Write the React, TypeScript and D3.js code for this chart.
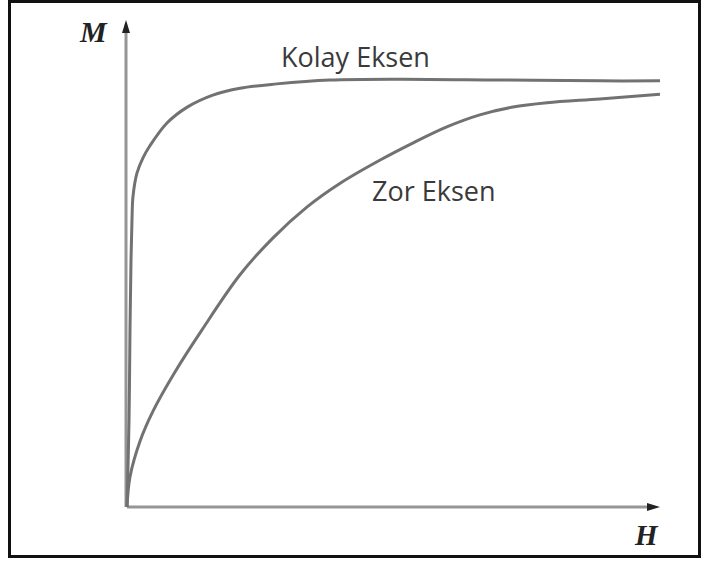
import React from "react";
import * as d3 from "d3";

// Magnetisation curves: field strength H (x) against magnetisation M (y)
const kolayH = [0, 0.038, 0.056, 0.075, 0.094, 0.113, 0.188, 0.3, 0.43, 0.75, 1.13, 1.61, 2.12, 2.81, 3.81, 5.12, 7.0, 8.87, 10];
const kolayM = [0, 0.202, 0.411, 0.574, 0.67, 0.723, 0.777, 0.812, 0.84, 0.893, 0.93, 0.958, 0.974, 0.984, 0.993, 0.995, 0.993, 0.991, 0.991];

const zorH = [0, 0.056, 0.244, 0.488, 0.9, 1.407, 2.12, 2.74, 3.38, 4.0, 4.75, 5.37, 6.0, 6.62, 7.24, 7.88, 8.87, 10];
const zorM = [0, 0.07, 0.153, 0.223, 0.314, 0.412, 0.54, 0.626, 0.698, 0.753, 0.807, 0.847, 0.884, 0.912, 0.93, 0.94, 0.949, 0.96];

const curveLabels = ["Kolay Eksen", "Zor Eksen"];
const axisLabels = ["M", "H"];

const W = 706;
const H = 563;

export default function App() {
  const x = d3.scaleLinear().domain([0, 10]).range([127, 660]);
  const y = d3.scaleLinear().domain([0, 1]).range([507, 77]);

  const line = d3
    .line<[number, number]>()
    .x((d) => x(d[0]))
    .y((d) => y(d[1]))
    .curve(d3.curveCatmullRom.alpha(0.5));

  const kolay = kolayH.map((h, i) => [h, kolayM[i]] as [number, number]);
  const zor = zorH.map((h, i) => [h, zorM[i]] as [number, number]);

  const x0 = x(0);
  const y0 = y(0);
  const axisColor = "#959595";
  const curveColor = "#727272";

  return (
    <svg
      width={W}
      height={H}
      style={{ position: "absolute", left: 0, top: 0, background: "#fff" }}
    >
      <rect x={9.5} y={1.5} width={690} height={555} fill="#fff" stroke="#111" strokeWidth={3} />

      {/* axes */}
      <line x1={x0 - 1} y1={y0} x2={x0 - 1} y2={30} stroke={axisColor} strokeWidth={3} />
      <polygon points={`${x0 - 1},20 ${x0 - 5},33 ${x0 + 3},33`} fill="#222" />
      <line x1={x0} y1={y0} x2={650} y2={y0} stroke={axisColor} strokeWidth={3} />
      <polygon points={`660,${y0} 647,${y0 - 4} 647,${y0 + 4}`} fill="#222" />

      {/* curves */}
      <path d={line(kolay) ?? ""} fill="none" stroke={curveColor} strokeWidth={3} />
      <path d={line(zor) ?? ""} fill="none" stroke={curveColor} strokeWidth={3} />

      {/* labels */}
      <text
        x={281}
        y={67}
        fontFamily="'Open Sans', sans-serif"
        fontSize={27}
        fill="#3a3a3a"
      >
        {curveLabels[0]}
      </text>
      <text
        x={372}
        y={201}
        fontFamily="'Open Sans', sans-serif"
        fontSize={27}
        fill="#3a3a3a"
      >
        {curveLabels[1]}
      </text>
      <text
        x={80}
        y={42}
        fontFamily="'Liberation Serif', 'Times New Roman', serif"
        fontWeight="bold"
        fontStyle="italic"
        fontSize={30}
        fill="#222"
      >
        {axisLabels[0]}
      </text>
      <text
        x={635}
        y={545}
        fontFamily="'Liberation Serif', 'Times New Roman', serif"
        fontWeight="bold"
        fontStyle="italic"
        fontSize={29}
        fill="#222"
      >
        {axisLabels[1]}
      </text>
    </svg>
  );
}
